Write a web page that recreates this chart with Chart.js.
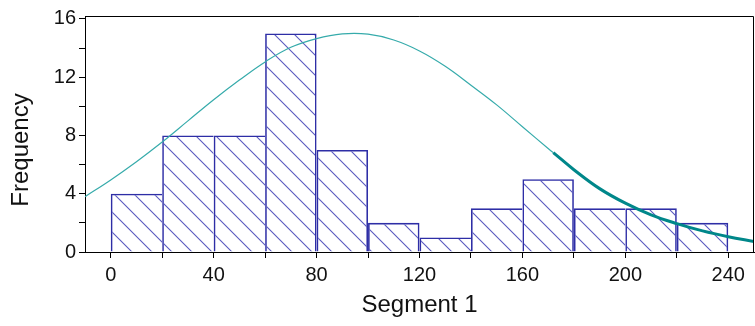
<!DOCTYPE html>
<html>
<head>
<meta charset="utf-8">
<script src="https://cdn.jsdelivr.net/npm/chart.js@4"></script>
<style>
html,body{margin:0;padding:0;background:#fff;}
#c{display:block;}
</style>
</head>
<body>
<canvas id="c" width="755" height="326"></canvas>
<script>
// ---- data ----
const binCenters = [10, 30, 50, 70, 90, 110, 130, 150, 170, 190, 210, 230];
const frequencies = [4, 8, 8, 15, 7, 2, 1, 3, 5, 3, 3, 2];
const curveX = [-10, 0, 10, 20, 30, 40, 50, 60, 70, 80, 90, 100, 110, 120, 130, 140, 150, 160, 170, 172, 180, 190, 200, 210, 220, 230, 240, 250];
const curveY = [3.8, 4.95, 6.2, 7.55, 9.0, 10.45, 11.8, 13.05, 14.05, 14.65, 14.97, 14.95, 14.55, 13.8, 12.75, 11.45, 10.1, 8.6, 7.1, 6.82, 5.65, 4.35, 3.35, 2.55, 1.95, 1.45, 1.05, 0.72];
const thickFrom = 172;
const xTickValues = [0, 20, 40, 60, 80, 100, 120, 140, 160, 180, 200, 220, 240];
const yTickValues = [0, 2, 4, 6, 8, 10, 12, 14, 16];
const xTitle = 'Segment 1';
const yTitle = 'Frequency';

// ---- hatch pattern ----
function makeHatch() {
  const s = 20;
  const p = document.createElement('canvas');
  p.width = s; p.height = s;
  const g = p.getContext('2d');
  g.strokeStyle = 'rgba(60,60,180,0.85)';
  g.lineWidth = 1.1;
  g.beginPath();
  g.moveTo(-5, -5); g.lineTo(s + 5, s + 5);
  g.moveTo(s - 5, -5); g.lineTo(s + 5, 5);
  g.moveTo(-5, s - 5); g.lineTo(5, s + 5);
  g.stroke();
  return g.createPattern(p, 'repeat');
}
const hatch = makeHatch();

const histData = binCenters.map((x, i) => ({x: x, y: frequencies[i]}));
const thinData = [], thickData = [];
curveX.forEach((x, i) => {
  if (x <= thickFrom) thinData.push({x: x, y: curveY[i]});
  if (x >= thickFrom) thickData.push({x: x, y: curveY[i]});
});

const FONT = "'Liberation Sans', Arial, sans-serif";

const framePlugin = {
  id: 'frame',
  afterDatasetsDraw(chart) {
    const a = chart.chartArea, ctx = chart.ctx;
    ctx.save();
    ctx.strokeStyle = '#000';
    ctx.lineWidth = 1;
    ctx.beginPath();
    ctx.moveTo(a.left, a.top + 0.5);
    ctx.lineTo(a.right - 0.5, a.top + 0.5);
    ctx.lineTo(a.right - 0.5, a.bottom);
    ctx.stroke();
    ctx.restore();
  }
};

const shiftYTitle = {
  id: 'shiftYTitle',
  afterLayout(chart) {
    const sc = chart.scales.y;
    if (sc && !sc._shifted) {
      const orig = sc.drawTitle.bind(sc);
      sc.drawTitle = function (area) {
        const ctx = this.ctx;
        ctx.save();
        ctx.translate(0, 16);
        orig(area);
        ctx.restore();
      };
      sc._shifted = true;
    }
  }
};

// shared edges drawn once: left edge always, right edge only when the next bar is lower (or last bar)
function barBorder(ctx) {
  const i = ctx.dataIndex;
  const next = i + 1 < frequencies.length ? frequencies[i + 1] : -1;
  const w = 1.6;
  return {top: w, left: w, bottom: 0, right: next < frequencies[i] ? w : 0};
}

new Chart(document.getElementById('c'), {
  type: 'bar',
  data: {
    datasets: [
      {
        type: 'line',
        data: thickData,
        borderColor: '#00878a',
        borderWidth: 3,
        pointRadius: 0,
        tension: 0.4,
        fill: false,
        order: 0
      },
      {
        type: 'line',
        data: thinData,
        borderColor: '#36abab',
        borderWidth: 1.2,
        pointRadius: 0,
        tension: 0.4,
        fill: false,
        order: 1
      },
      {
        type: 'bar',
        data: histData,
        backgroundColor: hatch,
        borderColor: '#2e2ea6',
        borderWidth: barBorder,
        inflateAmount: 0,
        borderSkipped: false,
        barPercentage: 1,
        categoryPercentage: 1,
        order: 2
      }
    ]
  },
  options: {
    responsive: false,
    devicePixelRatio: 1,
    animation: false,
    layout: {padding: {top: 16, right: 1, left: 0, bottom: 0}},
    plugins: {legend: {display: false}, tooltip: {enabled: false}},
    scales: {
      x: {
        type: 'linear',
        min: -10,
        max: 250,
        offset: false,
        afterBuildTicks(s) { s.ticks = xTickValues.map(v => ({value: v})); },
        afterFit(s) { s.height = 74; },
        grid: {display: true, drawOnChartArea: false, drawTicks: true, tickLength: 6, color: '#000', offset: false},
        border: {display: true, color: '#000', width: 1},
        ticks: {
          autoSkip: false,
          maxRotation: 0,
          padding: 5,
          color: '#111',
          font: {family: FONT, size: 20},
          callback: v => (v % 40 === 0 ? String(v) : '')
        },
        title: {display: true, text: xTitle, color: '#111', font: {family: FONT, size: 24}, padding: {top: 0, bottom: 6}}
      },
      y: {
        min: 0,
        max: 16.2,
        afterBuildTicks(s) { s.ticks = yTickValues.map(v => ({value: v})); },
        afterFit(s) { s.width = 85; },
        grid: {display: true, drawOnChartArea: false, drawTicks: true, tickLength: 6, color: '#000'},
        border: {display: true, color: '#000', width: 1},
        ticks: {
          autoSkip: false,
          padding: 3,
          color: '#111',
          font: {family: FONT, size: 20},
          callback: v => (v % 4 === 0 ? String(v) : '')
        },
        title: {display: true, text: yTitle, color: '#111', font: {family: FONT, size: 24}, padding: {top: 7, bottom: 0}}
      }
    }
  },
  plugins: [framePlugin, shiftYTitle]
});
</script>
</body>
</html>
